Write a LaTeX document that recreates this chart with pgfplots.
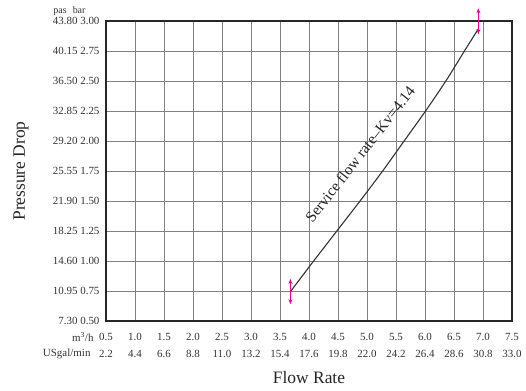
\documentclass[border=0pt]{standalone}
\usepackage{pgfplots}
\pgfplotsset{compat=1.18}
\usepackage{fontspec}
\setmainfont{Liberation Serif}
\usetikzlibrary{arrows.meta}
\begin{document}
\begin{tikzpicture}
\begin{axis}[
  scale only axis, width=406bp, height=300bp,
  xmin=0.5, xmax=7.5, ymin=0.5, ymax=3.0,
  xtick={0.5,1.0,1.5,2.0,2.5,3.0,3.5,4.0,4.5,5.0,5.5,6.0,6.5,7.0,7.5},
  xticklabels={{0.5\\2.2},{1.0\\4.4},{1.5\\6.6},{2.0\\8.8},{2.5\\11.0},{3.0\\13.2},{3.5\\15.4},{4.0\\17.6},{4.5\\19.8},{5.0\\22.0},{5.5\\24.2},{6.0\\26.4},{6.5\\28.6},{7.0\\30.8},{7.5\\33.0}},
  xticklabel style={align=center, font=\fontsize{11}{17}\selectfont, text=black!80, yshift=-9bp},
  ytick={0.5,0.75,1.0,1.25,1.5,1.75,2.0,2.25,2.5,2.75,3.0},
  yticklabels={{7.30 0.50},{10.95 0.75},{14.60 1.00},{18.25 1.25},{21.90 1.50},{25.55 1.75},{29.20 2.00},{32.85 2.25},{36.50 2.50},{40.15 2.75},{43.80 3.00}},
  yticklabel style={font=\fontsize{11}{13}\selectfont, text=black!80, xshift=-3bp},
  grid=major, major grid style={black!50, line width=0.5bp},
  axis line style={line width=1.3bp, black!85},
  major tick length=0pt,
  clip=false,
  /pgf/number format/assume math mode=true,
]
\addplot[smooth, tension=0.4, line width=1.1bp, black!80] coordinates {
(3.68,0.745) (4.08,1.0) (4.48,1.25) (4.88,1.5) (5.27,1.75) (5.64,2.0) (6.01,2.25) (6.36,2.5) (6.68,2.75) (6.92,2.935)
};
\addplot[magenta, line width=0.9bp, {Stealth[length=5bp,width=4bp]}-{Stealth[length=5bp,width=4bp]}] coordinates {(3.68,0.64) (3.68,0.85)};
\addplot[magenta, line width=0.9bp, {Stealth[length=5bp,width=4bp]}-{Stealth[length=5bp,width=4bp]}] coordinates {(6.92,2.89) (6.92,3.106)};
\node[rotate=52, anchor=base west, inner sep=0pt, font=\fontsize{15.5}{18}\selectfont, text=black!85] at (axis cs:4.06,1.31) {Service flow rate–Kv=4.14};
\node[anchor=east, font=\fontsize{11}{13}\selectfont, text=black!80] at ([xshift=-9bp,yshift=-16bp]rel axis cs:0,0) {m\textsuperscript{3}/h};
\node[anchor=east, font=\fontsize{11}{13}\selectfont, text=black!80] at ([xshift=-12bp,yshift=-33bp]rel axis cs:0,0) {USgal/min};
\node[anchor=east, font=\fontsize{10}{12}\selectfont, text=black!80] at ([xshift=-17bp,yshift=10bp]rel axis cs:0,1) {pas\hspace{6bp}bar};
\node[rotate=90, font=\fontsize{17.5}{20}\selectfont, text=black!85] at ([xshift=-85bp]rel axis cs:0,0.5) {Pressure Drop};
\node[font=\fontsize{17.5}{20}\selectfont, text=black!85] at ([yshift=-57bp]rel axis cs:0.5,0) {Flow Rate};
\end{axis}
\pgfresetboundingbox
\path[use as bounding box] ([xshift=-106bp,yshift=-70bp]current axis.south west) rectangle ([xshift=14bp,yshift=21bp]current axis.north east);
\end{tikzpicture}
\end{document}
